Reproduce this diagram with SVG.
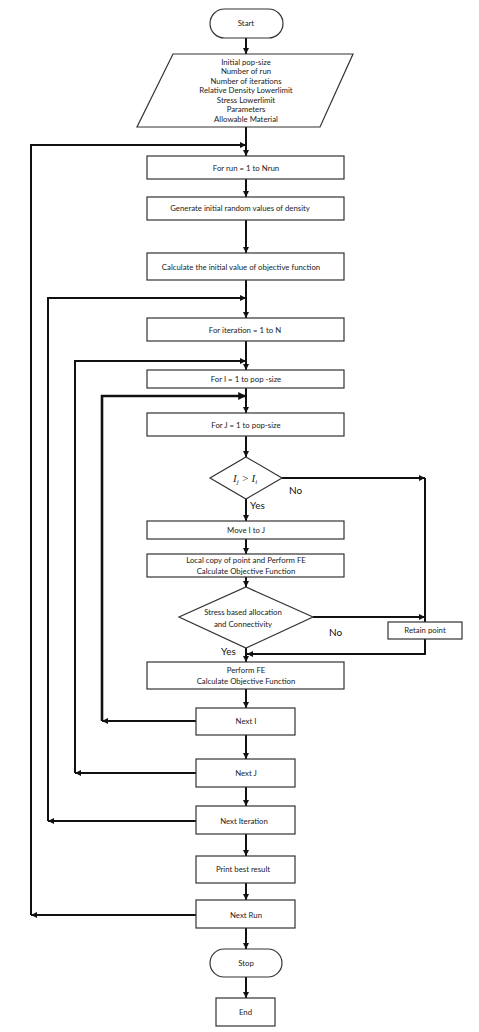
<svg xmlns="http://www.w3.org/2000/svg" width="479" height="1032" viewBox="0 0 479 1032">
<style>
.box{fill:#fff;stroke:#333;stroke-width:1.2}
.t{font-family:Lato,"Liberation Sans",sans-serif;font-size:7.8px;fill:#222;text-anchor:middle}
.lbl{font-family:Lato,"Liberation Sans",sans-serif;font-size:10px;fill:#111}
.c{fill:none;stroke:#111;stroke-width:2}
.m{font-family:"Liberation Serif",serif;font-style:italic;font-size:11px;fill:#222}
</style>
<defs>
<marker id="a" viewBox="0 0 10 10" refX="10" refY="5" markerWidth="3" markerHeight="3" orient="auto" markerUnits="strokeWidth">
<path d="M0,0 L10,5 L0,10 z" fill="#111"/>
</marker>
</defs>
<rect width="479" height="1032" fill="#fff"/>
<g id="connectors">
<path class="c" d="M246,38 V54" marker-end="url(#a)"/>
<path class="c" d="M246,127 V156" marker-end="url(#a)"/>
<path class="c" d="M246,179 V197" marker-end="url(#a)"/>
<path class="c" d="M246,220 V253" marker-end="url(#a)"/>
<path class="c" d="M246,280 V318" marker-end="url(#a)"/>
<path class="c" d="M246,341 V370" marker-end="url(#a)"/>
<path class="c" d="M246,388 V413" marker-end="url(#a)"/>
<path class="c" d="M246,436 V457" marker-end="url(#a)"/>
<path class="c" d="M246,499 V521" marker-end="url(#a)"/>
<path class="c" d="M246,539 V554" marker-end="url(#a)"/>
<path class="c" d="M246,577 V587" marker-end="url(#a)"/>
<path class="c" d="M246,648 V662" marker-end="url(#a)"/>
<path class="c" d="M246,689 V708" marker-end="url(#a)"/>
<path class="c" d="M246,735 V759" marker-end="url(#a)"/>
<path class="c" d="M246,787 V806" marker-end="url(#a)"/>
<path class="c" d="M246,834 V856" marker-end="url(#a)"/>
<path class="c" d="M246,883 V900" marker-end="url(#a)"/>
<path class="c" d="M246,928 V949" marker-end="url(#a)"/>
<path class="c" d="M246,977 V998" marker-end="url(#a)"/>
<path class="c" d="M282,478 H425" marker-end="url(#a)"/>
<path class="c" d="M425,478 V622"/>
<path class="c" d="M313,617 H425" marker-end="url(#a)"/>
<path class="c" d="M425,639 V654 H247" marker-end="url(#a)"/>
<path class="c" d="M196,721 H102" marker-end="url(#a)"/>
<path class="c" d="M102,721 V396 H246" style="stroke-width:2.6" marker-end="url(#a)"/>
<path class="c" d="M196,773 H75" marker-end="url(#a)"/>
<path class="c" d="M75,773 V361 H246" marker-end="url(#a)"/>
<path class="c" d="M196,821 H48" marker-end="url(#a)"/>
<path class="c" d="M48,821 V298 H246" marker-end="url(#a)"/>
<path class="c" d="M196,915 H31" marker-end="url(#a)"/>
<path class="c" d="M31,915 V145 H246" marker-end="url(#a)"/>
</g>
<g id="start"><rect class="box" x="210" y="9" width="73" height="29" rx="14.5"/><text class="t" x="246" y="26">Start</text></g>
<g id="input">
<polygon class="box" points="173,54 353,54 320,127 137,127"/>
<text class="t" x="246" y="64.5">Initial pop-size</text>
<text class="t" x="246" y="74">Number of run</text>
<text class="t" x="246" y="83.5">Number of iterations</text>
<text class="t" x="246" y="93">Relative Density Lowerlimit</text>
<text class="t" x="246" y="102.5">Stress Lowerlimit</text>
<text class="t" x="246" y="112">Parameters</text>
<text class="t" x="246" y="121.5">Allowable Material</text>
</g>
<g id="forrun"><rect class="box" x="147" y="156" width="197" height="23"/><text class="t" x="246" y="170.5">For run  =  1 to Nrun</text></g>
<g id="generate"><rect class="box" x="147" y="197" width="197" height="23"/><text class="t" x="240" y="211">Generate initial random values of density</text></g>
<g id="calcinit"><rect class="box" x="147" y="253" width="197" height="27"/><text class="t" x="241" y="269.5">Calculate the initial value of objective function</text></g>
<g id="foriter"><rect class="box" x="147" y="318" width="197" height="23"/><text class="t" x="245" y="332.5">For iteration  =  1 to N</text></g>
<g id="fori"><rect class="box" x="147" y="370" width="197" height="18"/><text class="t" x="246" y="381.5">For I  =  1 to pop -size</text></g>
<g id="forj"><rect class="box" x="147" y="413" width="197" height="23"/><text class="t" x="246" y="427.5">For J  =  1  to pop-size</text></g>
<g id="dec1">
<polygon class="box" points="246,457 282,478 246,499 210,478"/>
<text class="m" x="233" y="482">I<tspan font-size="7" dy="2">j</tspan><tspan dy="-2"> &gt; I</tspan><tspan font-size="7" dy="2">i</tspan></text>
<text class="lbl" x="289" y="494">No</text>
<text class="lbl" x="250" y="509">Yes</text>
</g>
<g id="move"><rect class="box" x="147" y="521" width="197" height="18"/><text class="t" x="246" y="532.5">Move I to J</text></g>
<g id="localcopy"><rect class="box" x="147" y="554" width="197" height="23"/><text class="t" x="246" y="562.5">Local copy of point and Perform FE</text><text class="t" x="246" y="573.5">Calculate Objective Function</text></g>
<g id="dec2">
<polygon class="box" points="246,587 313,617 246,648 179,617"/>
<text class="t" x="243" y="615">Stress based allocation</text>
<text class="t" x="243" y="627">and Connectivity</text>
<text class="lbl" x="329" y="636">No</text>
<text class="lbl" x="221" y="655">Yes</text>
</g>
<g id="retain"><rect class="box" x="388" y="622" width="74" height="17"/><text class="t" x="425" y="633">Retain point</text></g>
<g id="performfe"><rect class="box" x="147" y="662" width="197" height="27"/><text class="t" x="246" y="672.5">Perform FE</text><text class="t" x="246" y="684">Calculate Objective Function</text></g>
<g id="nexti"><rect class="box" x="196" y="708" width="99" height="27"/><text class="t" x="246" y="724">Next I</text></g>
<g id="nextj"><rect class="box" x="196" y="759" width="99" height="28"/><text class="t" x="246" y="776">Next J</text></g>
<g id="nextiter"><rect class="box" x="196" y="806" width="99" height="28"/><text class="t" x="244" y="823.5">Next Iteration</text></g>
<g id="print"><rect class="box" x="196" y="856" width="99" height="27"/><text class="t" x="243" y="871.5">Print best result</text></g>
<g id="nextrun"><rect class="box" x="196" y="900" width="99" height="28"/><text class="t" x="246" y="917.5">Next Run</text></g>
<g id="stop"><rect class="box" x="210" y="949" width="72" height="28" rx="14"/><text class="t" x="246" y="966">Stop</text></g>
<g id="end"><rect class="box" x="216" y="998" width="59" height="28"/><text class="t" x="245.5" y="1015">End</text></g>
</svg>
